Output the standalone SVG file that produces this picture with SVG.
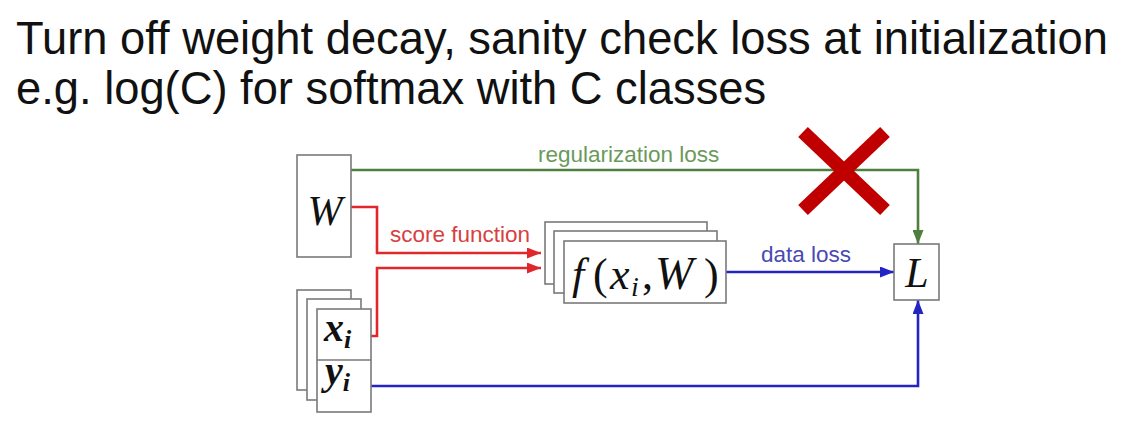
<svg xmlns="http://www.w3.org/2000/svg" width="1129" height="431" viewBox="0 0 1129 431">
<style>
.box{fill:#fff;stroke:#7a7a7a;stroke-width:1.6}
.title{font-family:"Liberation Sans",Arial,sans-serif;font-size:45.3px;fill:#111}
.lbl{font-family:"Liberation Sans",Arial,sans-serif;font-size:22.5px}
.math{font-family:"Liberation Serif","Times New Roman",serif;font-style:italic;fill:#111}
.conn{fill:none;stroke-width:2.6}
</style>
<defs>
<marker id="ag" markerUnits="userSpaceOnUse" markerWidth="14" markerHeight="11" refX="14" refY="5.5" orient="auto"><path d="M0,0 L14,5.5 L0,11 z" fill="#4f7f3f"/></marker>
<marker id="ar" markerUnits="userSpaceOnUse" markerWidth="14" markerHeight="11" refX="14" refY="5.5" orient="auto"><path d="M0,0 L14,5.5 L0,11 z" fill="#e0282c"/></marker>
<marker id="ab" markerUnits="userSpaceOnUse" markerWidth="14" markerHeight="11" refX="14" refY="5.5" orient="auto"><path d="M0,0 L14,5.5 L0,11 z" fill="#2424c4"/></marker>
</defs>
<rect width="1129" height="431" fill="#fff"/>
<text class="title" x="16" y="54">Turn off weight decay, sanity check loss at initialization</text>
<text class="title" x="16" y="104">e.g. log(C) for softmax with C classes</text>

<g id="connectors">
<path class="conn" d="M351,170 H918 V244" stroke="#4f7f3f" marker-end="url(#ag)"/>
<path class="conn" d="M351,207 H377 V253 H541" stroke="#e0282c" marker-end="url(#ar)"/>
<path class="conn" d="M371,336 H377 V268 H541" stroke="#e0282c" marker-end="url(#ar)"/>
<path class="conn" d="M726,272 H894" stroke="#2424c4" marker-end="url(#ab)"/>
<path class="conn" d="M371,386 H918 V300" stroke="#2424c4" marker-end="url(#ab)"/>
<text class="lbl" x="538" y="162" fill="#6a9a5a">regularization loss</text>
<text class="lbl" x="390" y="242" fill="#d8403f">score function</text>
<text class="lbl" x="761" y="262" fill="#4a4ab4">data loss</text>
</g>

<g id="W">
<rect class="box" x="297" y="155" width="54" height="102"/>
<text class="math" x="325" y="225" font-size="42" text-anchor="middle">W</text>
</g>

<g id="xy">
<rect class="box" x="297" y="290" width="54" height="100"/>
<rect class="box" x="307" y="299" width="54" height="101"/>
<rect class="box" x="317" y="309" width="54" height="103"/>
<line x1="317" y1="360" x2="371" y2="360" stroke="#7a7a7a" stroke-width="1.6"/>
<text class="math" x="324" y="341" font-size="40" font-weight="bold">x<tspan font-size="26" dy="7">i</tspan></text>
<text class="math" x="325" y="384" font-size="40" font-weight="bold">y<tspan font-size="26" dy="7">i</tspan></text>
</g>

<g id="f">
<rect class="box" x="545" y="222" width="162" height="62"/>
<rect class="box" x="554" y="231" width="163" height="62"/>
<rect class="box" x="564" y="241" width="162" height="62"/>
<text class="math" y="289" font-size="44"><tspan x="572">f</tspan><tspan x="593" font-style="normal">(</tspan><tspan x="610">x</tspan><tspan x="631" dy="7" font-size="28">i</tspan><tspan x="642" dy="-7" font-style="normal">,</tspan><tspan x="655" font-size="46">W</tspan><tspan x="704" font-style="normal">)</tspan></text>
</g>

<g id="L">
<rect class="box" x="894" y="244" width="45" height="56"/>
<text class="math" x="917" y="287" font-size="42" text-anchor="middle">L</text>
</g>

<g id="cross" stroke="#c00000" stroke-width="14" stroke-linecap="butt">
<line x1="803" y1="132" x2="885" y2="210"/>
<line x1="885" y1="132" x2="803" y2="210"/>
</g>
</svg>
